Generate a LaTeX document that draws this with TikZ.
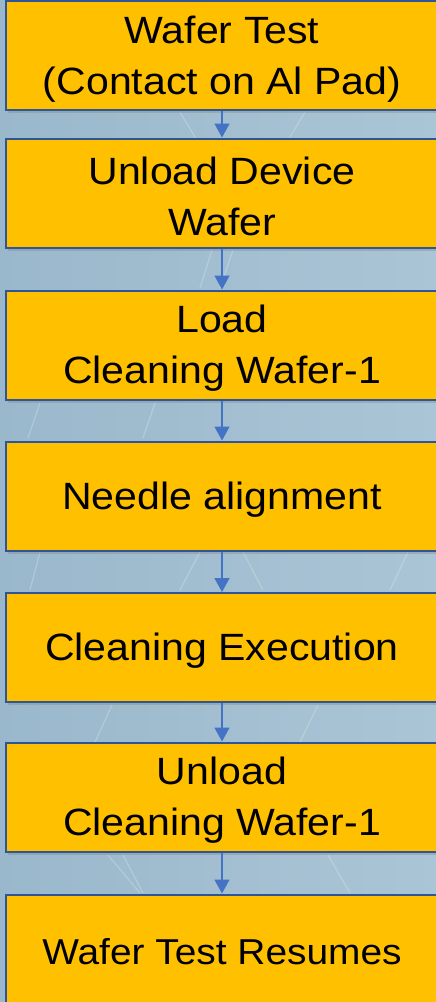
\documentclass[tikz,border=0pt]{standalone}
\usepackage{fontspec}
\setmainfont{Liberation Sans}[FakeStretch=1.08]
\usetikzlibrary{arrows.meta,shadows}
\definecolor{bgL}{HTML}{9AB8CC}
\definecolor{bgR}{HTML}{AAC5D5}
\definecolor{boxfill}{HTML}{FFC000}
\definecolor{boxedge}{HTML}{2F5597}
\definecolor{arrowblue}{HTML}{4472C4}
\tikzset{
  stepbox/.style={draw=boxedge, line width=2pt, fill=boxfill, minimum width=432pt,
    minimum height=109pt, inner sep=0pt,
    drop shadow={opacity=0.35, shadow xshift=2pt, shadow yshift=-3pt}},
  steptext/.style={inner sep=0pt, align=center, text=black,
    font=\fontsize{38}{51}\selectfont},
  flow/.style={draw=arrowblue, line width=1.5pt,
    -{Triangle[width=15pt,length=14pt]}},
  deco/.style={draw=white, opacity=0.22, line width=1.2pt}
}
\begin{document}
\begin{tikzpicture}[x=1pt,y=-1pt]
\useasboundingbox (0,0) rectangle (436,1002);
\begin{scope}
\clip (0,0) rectangle (436,1002);
\shade[left color=bgL, right color=bgR] (0,0) rectangle (436,1002);
% faint decorative lines
\draw[deco] (180,112) -- (195,137);
\draw[deco] (305,112) -- (290,137);
\draw[deco] (212,250) -- (200,288);
\draw[deco] (233,250) -- (220,288);
\draw[deco] (40,403) -- (28,438);
\draw[deco] (155,403) -- (143,438);
\draw[deco] (40,552) -- (30,590);
\draw[deco] (200,552) -- (180,590);
\draw[deco] (243,552) -- (263,590);
\draw[deco] (408,552) -- (390,590);
\draw[deco] (112,705) -- (95,742);
\draw[deco] (318,705) -- (300,742);
\draw[deco] (108,855) -- (140,893);
\draw[deco] (123,855) -- (143,893);
\draw[deco] (328,855) -- (350,893);

\node[stepbox] (b1) at (222,55.5) {};
\node[stepbox] (b2) at (222,193) {};
\node[stepbox] (b3) at (222,345) {};
\node[stepbox] (b4) at (222,496) {};
\node[stepbox] (b5) at (222,647.5) {};
\node[stepbox] (b6) at (222,797) {};
\node[stepbox] (b7) at (222,949) {};

\node[steptext] (t1) at ([yshift=-3.5pt]b1.center) {Wafer Test\\(Contact on Al Pad)};
\node[steptext] (t2) at ([yshift=-3.5pt]b2.center) {Unload Device\\Wafer};
\node[steptext] (t3) at ([yshift=-3.5pt]b3.center) {Load\\Cleaning Wafer-1};
\node[steptext] (t4) at ([yshift=-3.5pt]b4.center) {Needle alignment};
\node[steptext] (t5) at ([yshift=-3.5pt]b5.center) {Cleaning Execution};
\node[steptext] (t6) at ([yshift=-3.5pt]b6.center) {Unload\\Cleaning Wafer-1};
\node[steptext, font=\fontsize{36}{48}\selectfont] (t7) at ([yshift=-3pt]b7.center) {Wafer Test Resumes};

\draw[flow] (b1) -- (b2);
\draw[flow] (b2) -- (b3);
\draw[flow] (b3) -- (b4);
\draw[flow] (b4) -- (b5);
\draw[flow] (b5) -- (b6);
\draw[flow] (b6) -- (b7);
\end{scope}
\end{tikzpicture}
\end{document}
